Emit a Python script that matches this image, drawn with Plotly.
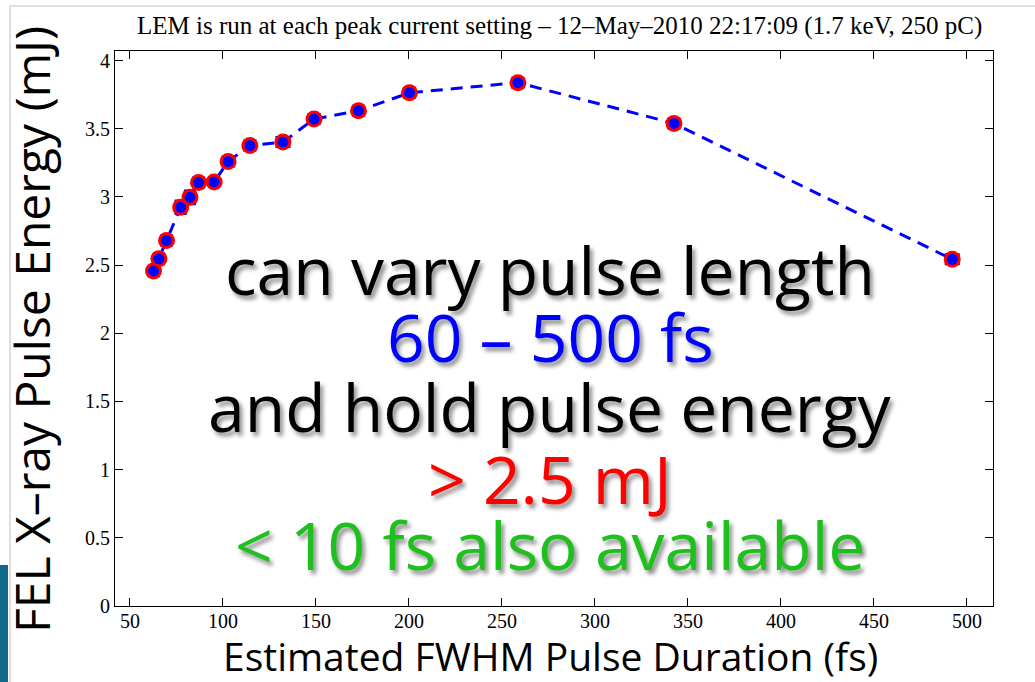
import plotly.graph_objects as go

# Measured FEL pulse energy vs. estimated FWHM pulse duration
duration_fs = [62.7, 65.6, 69.7, 77.3, 82.3, 86.9, 95.3, 102.8, 114.5, 132.3,
               149.0, 172.9, 200.3, 258.6, 342.5, 492.1]
energy_mj = [2.456, 2.546, 2.680, 2.924, 2.997, 3.105, 3.110, 3.259, 3.377, 3.402,
             3.571, 3.632, 3.763, 3.838, 3.539, 2.542]
duration_err = [2.0, 2.0, 2.5, 3.0, 3.0, 2.5, 2.5, 3.0, 3.0, 3.5,
                3.0, 3.0, 3.0, 3.0, 3.0, 3.5]
energy_err = [0.04, 0.04, 0.04, 0.05, 0.05, 0.04, 0.03, 0.03, 0.03, 0.03,
              0.02, 0.02, 0.02, 0.02, 0.02, 0.03]

x_ticks = [50, 100, 150, 200, 250, 300, 350, 400, 450, 500]
y_ticks = [0, 0.5, 1, 1.5, 2, 2.5, 3, 3.5, 4]
y_tick_labels = ["0", "0.5", "1", "1.5", "2", "2.5", "3", "3.5", "4"]

title_text = "LEM is run at each peak current setting \u2013 12\u2013May\u20132010 22:17:09 (1.7 keV, 250 pC)"
x_title = "Estimated FWHM Pulse Duration (fs)"
y_title = "FEL X\u2013ray Pulse Energy (mJ)"

overlay_lines = [
    ("can vary pulse length", "#000000"),
    ("60 \u2013 500 fs", "#0000ff"),
    ("and hold pulse energy", "#000000"),
    ("> 2.5 mJ", "#ff0000"),
    ("< 10 fs also available", "#1ec01e"),
]

W, H = 1035, 682
L, R, T, B = 115, 42, 51, 76
plot_w = W - L - R
plot_h = H - T - B


def px_x(px):
    """Horizontal page pixel -> paper coordinate."""
    return (px - L) / plot_w


def px_y(py):
    """Vertical page pixel (from top) -> paper coordinate."""
    return 1 - (py - T) / plot_h


serif = "Liberation Serif, Times New Roman, serif"
sans = "Open Sans, sans-serif"

fig = go.Figure()

fig.add_trace(go.Scatter(
    x=duration_fs, y=energy_mj,
    mode="lines",
    line=dict(color="#0000ff", width=3, dash="12px,8px"),
    hoverinfo="skip", showlegend=False,
))
fig.add_trace(go.Scatter(
    x=duration_fs, y=energy_mj,
    mode="markers",
    marker=dict(size=14, color="#0000ff", line=dict(color="#ff0000", width=3)),
    error_x=dict(type="data", array=duration_err, color="#0000ff", thickness=2, width=6),
    error_y=dict(type="data", array=energy_err, color="#0000ff", thickness=2, width=6),
    showlegend=False,
))

axis_common = dict(
    showline=True, linecolor="#000000", linewidth=1, mirror="ticks",
    ticks="inside", ticklen=8, tickcolor="#000000", tickwidth=1,
    showgrid=False, zeroline=False,
    tickfont=dict(family=serif, size=20, color="#000000"),
)

fig.update_xaxes(range=[42, 514], tickmode="array", tickvals=x_ticks,
                 ticklabelstandoff=-3, **axis_common)
fig.update_yaxes(range=[0, 4.07], tickmode="array", tickvals=y_ticks,
                 ticktext=y_tick_labels, **axis_common)

annotations = [
    dict(text=title_text, xref="paper", yref="paper", x=px_x(559), y=px_y(26),
         xanchor="center", yanchor="middle", showarrow=False,
         font=dict(family=serif, size=25, color="#000000")),
    dict(text=x_title, xref="paper", yref="paper", x=px_x(550), y=px_y(655),
         xanchor="center", yanchor="middle", showarrow=False,
         font=dict(family=sans, size=39, color="#000000")),
    dict(text=y_title, xref="paper", yref="paper", x=px_x(31), y=px_y(330),
         xanchor="center", yanchor="middle", showarrow=False, textangle=-90,
         font=dict(family=sans, size=48, color="#000000")),
]

# Large summary statement drawn over the plot, centred on x ~ 550 px
baselines_px = [293, 360, 430, 502, 568]
for (txt, col), base in zip(overlay_lines, baselines_px):
    annotations.append(dict(
        text=txt, xref="paper", yref="paper",
        x=px_x(550), y=px_y(base), yshift=-23,
        xanchor="center", yanchor="bottom", showarrow=False,
        font=dict(family=sans, size=66, color=col,
                  shadow="3px 4px 4px rgba(0,0,0,0.45)"),
    ))

shapes = [
    # slide edge decoration
    dict(type="rect", xref="paper", yref="paper",
         x0=px_x(0), x1=px_x(8), y0=px_y(H), y1=px_y(565),
         fillcolor="#0e6a86", line=dict(width=0), layer="below"),
    dict(type="line", xref="paper", yref="paper",
         x0=px_x(10), x1=px_x(10), y0=px_y(H), y1=px_y(6),
         line=dict(color="#e6ded6", width=2)),
    dict(type="line", xref="paper", yref="paper",
         x0=px_x(10), x1=px_x(W), y0=px_y(6), y1=px_y(6),
         line=dict(color="#e6ded6", width=2)),
]

fig.update_layout(
    width=W, height=H,
    margin=dict(l=L, r=R, t=T, b=B),
    paper_bgcolor="#ffffff", plot_bgcolor="#ffffff",
    annotations=annotations, shapes=shapes,
    showlegend=False,
)

fig.write_html("out.html")
